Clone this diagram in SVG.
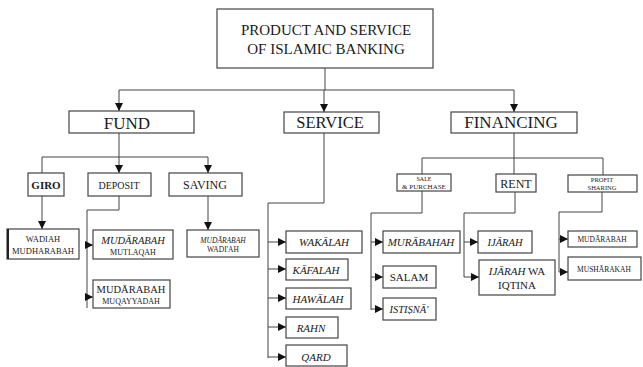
<svg xmlns="http://www.w3.org/2000/svg" width="643" height="367" viewBox="0 0 643 367" font-family="'Liberation Serif', 'Times New Roman', serif">
<defs>
<marker id="ah" markerUnits="userSpaceOnUse" markerWidth="9" markerHeight="8" refX="8" refY="4" orient="auto">
<path d="M0,0 L8,4 L0,8 Z" fill="#111"/>
</marker>
<style>
.bx{fill:#fff;stroke:#444;stroke-width:1.2}
.ln{fill:none;stroke:#444;stroke-width:1}
.ar{fill:none;stroke:#444;stroke-width:1;marker-end:url(#ah)}
text{font-family:'Liberation Serif','Times New Roman',serif;fill:#1a1a1a;text-anchor:middle}
.it{font-style:italic}
</style>
</defs>
<rect width="643" height="367" fill="#fff"/>

<g id="connectors">
<path class="ln" d="M325,68 V90 M119,90 H514"/>
<path class="ar" d="M119,90 V111"/>
<path class="ar" d="M324,90 V112"/>
<path class="ar" d="M514,90 V112"/>
<path class="ln" d="M119,133 V157 M42,157 H208 M42,157 V173"/>
<path class="ar" d="M119,157 V173"/>
<path class="ar" d="M208,157 V173"/>
<path class="ar" d="M42,196 V229"/>
<path class="ar" d="M208,196 V230"/>
<path class="ln" d="M119,196 V210 H87 V308"/>
<path class="ar" d="M87,245 H93"/>
<path class="ar" d="M87,297 H93"/>
<path class="ln" d="M324,133 V203 H268 V358"/>
<path class="ar" d="M268,242 H286"/>
<path class="ar" d="M268,269 H286"/>
<path class="ar" d="M268,298 H286"/>
<path class="ar" d="M268,327 H286"/>
<path class="ar" d="M268,357 H286"/>
<path class="ln" d="M514,133 V158 M422,158 H603 M422,158 V174 M514,158 V175 M603,158 V175"/>
<path class="ln" d="M422,191 V213 H371 V310"/>
<path class="ar" d="M371,242 H383"/>
<path class="ar" d="M371,277 H383"/>
<path class="ar" d="M371,309 H383"/>
<path class="ln" d="M515,192 V213 H464 V277"/>
<path class="ar" d="M464,242 H478"/>
<path class="ar" d="M464,277 H479"/>
<path class="ln" d="M602,192 V212 H559 V272"/>
<path class="ar" d="M559,239 H568"/>
<path class="ar" d="M559,272 H568"/>
</g>

<g id="root">
<rect class="bx" x="217" y="9" width="216" height="59"/>
<text x="326" y="35" font-size="15">PRODUCT AND SERVICE</text>
<text x="326" y="54" font-size="15">OF ISLAMIC BANKING</text>
</g>

<g id="fund">
<rect class="bx" x="69" y="111" width="125" height="22"/>
<text x="127" y="129" font-size="17">FUND</text>
</g>
<g id="service">
<rect class="bx" x="284" y="112" width="95" height="21"/>
<text x="330" y="128" font-size="16.5">SERVICE</text>
</g>
<g id="financing">
<rect class="bx" x="451" y="112" width="126" height="21"/>
<text x="511" y="128" font-size="17">FINANCING</text>
</g>

<g id="giro">
<rect class="bx" x="28" y="173" width="36" height="23"/>
<text x="46" y="189" font-size="11" font-weight="bold">GIRO</text>
</g>
<g id="deposit">
<rect class="bx" x="88" y="173" width="63" height="23"/>
<text x="119" y="189" font-size="10">DEPOSIT</text>
</g>
<g id="saving">
<rect class="bx" x="169" y="173" width="73" height="23"/>
<text x="205" y="189" font-size="12">SAVING</text>
</g>

<g id="wadiah-mudharabah">
<rect class="bx" x="7" y="229" width="72" height="30"/>
<path d="M8,229 V259" stroke="#222" stroke-width="2"/>
<text x="43" y="242" font-size="8.5">WADIAH</text>
<text x="43" y="254" font-size="8.5">MUDHARABAH</text>
</g>
<g id="mudarabah-mutlaqah">
<rect class="bx" x="93" y="230" width="80" height="29"/>
<text x="133" y="244" font-size="10.5" class="it">MUDĀRABAH</text>
<text x="133" y="255" font-size="8">MUTLAQAH</text>
</g>
<g id="mudarabah-wadiah">
<rect class="bx" x="187" y="230" width="72" height="27"/>
<text x="223" y="243" font-size="7.5" class="it">MUDĀRABAH</text>
<text x="223" y="252" font-size="7.5">WADI'AH</text>
</g>
<g id="mudarabah-muqayyadah">
<rect class="bx" x="93" y="280" width="77" height="28"/>
<text x="131" y="293" font-size="10.5">MUDĀRABAH</text>
<text x="131" y="304" font-size="8">MUQAYYADAH</text>
</g>

<g id="wakalah">
<rect class="bx" x="286" y="231" width="76" height="22"/>
<text x="324" y="246" font-size="11" class="it">WAKĀLAH</text>
</g>
<g id="kafalah">
<rect class="bx" x="286" y="259" width="62" height="21"/>
<text x="316" y="274" font-size="11" class="it">KĀFALAH</text>
</g>
<g id="hawalah">
<rect class="bx" x="286" y="288" width="65" height="21"/>
<text x="318" y="303" font-size="11" class="it">HAWĀLAH</text>
</g>
<g id="rahn">
<rect class="bx" x="286" y="317" width="52" height="21"/>
<text x="311" y="332" font-size="11" class="it">RAHN</text>
</g>
<g id="qard">
<rect class="bx" x="286" y="345" width="61" height="21"/>
<text x="316" y="361" font-size="11" class="it">QARD</text>
</g>

<g id="sale-purchase">
<rect class="bx" x="397" y="174" width="54" height="17"/>
<text x="424" y="181" font-size="6">SALE</text>
<text x="424" y="189" font-size="7">&amp; PURCHASE</text>
</g>
<g id="rent">
<rect class="bx" x="496" y="174" width="40" height="18"/>
<text x="516" y="188" font-size="12">RENT</text>
</g>
<g id="profit-sharing">
<rect class="bx" x="568" y="175" width="69" height="17"/>
<text x="602" y="182" font-size="6.5">PROFIT</text>
<text x="602" y="190" font-size="6.5">SHARING</text>
</g>

<g id="murabahah">
<rect class="bx" x="383" y="231" width="77" height="22"/>
<text x="421" y="246" font-size="11" class="it">MURĀBAHAH</text>
</g>
<g id="salam">
<rect class="bx" x="383" y="266" width="53" height="22"/>
<text x="409" y="281" font-size="11">SALAM</text>
</g>
<g id="istisna">
<rect class="bx" x="383" y="298" width="53" height="22"/>
<text x="409" y="313" font-size="10.5" class="it">ISTIṢNĀ'</text>
</g>

<g id="ijarah">
<rect class="bx" x="478" y="231" width="54" height="22"/>
<text x="505" y="246" font-size="10.5" class="it">IJĀRAH</text>
</g>
<g id="ijarah-wa-iqtina">
<rect class="bx" x="479" y="260" width="76" height="35"/>
<text x="517" y="275" font-size="11"><tspan class="it">IJĀRAH</tspan> WA</text>
<text x="517" y="289" font-size="11">IQTINA</text>
</g>

<g id="mudarabah-profit">
<rect class="bx" x="568" y="231" width="69" height="16"/>
<text x="602" y="242" font-size="7.5">MUDĀRABAH</text>
</g>
<g id="musharakah">
<rect class="bx" x="568" y="257" width="73" height="23"/>
<text x="604" y="272" font-size="7.5">MUSHĀRAKAH</text>
</g>
</svg>
